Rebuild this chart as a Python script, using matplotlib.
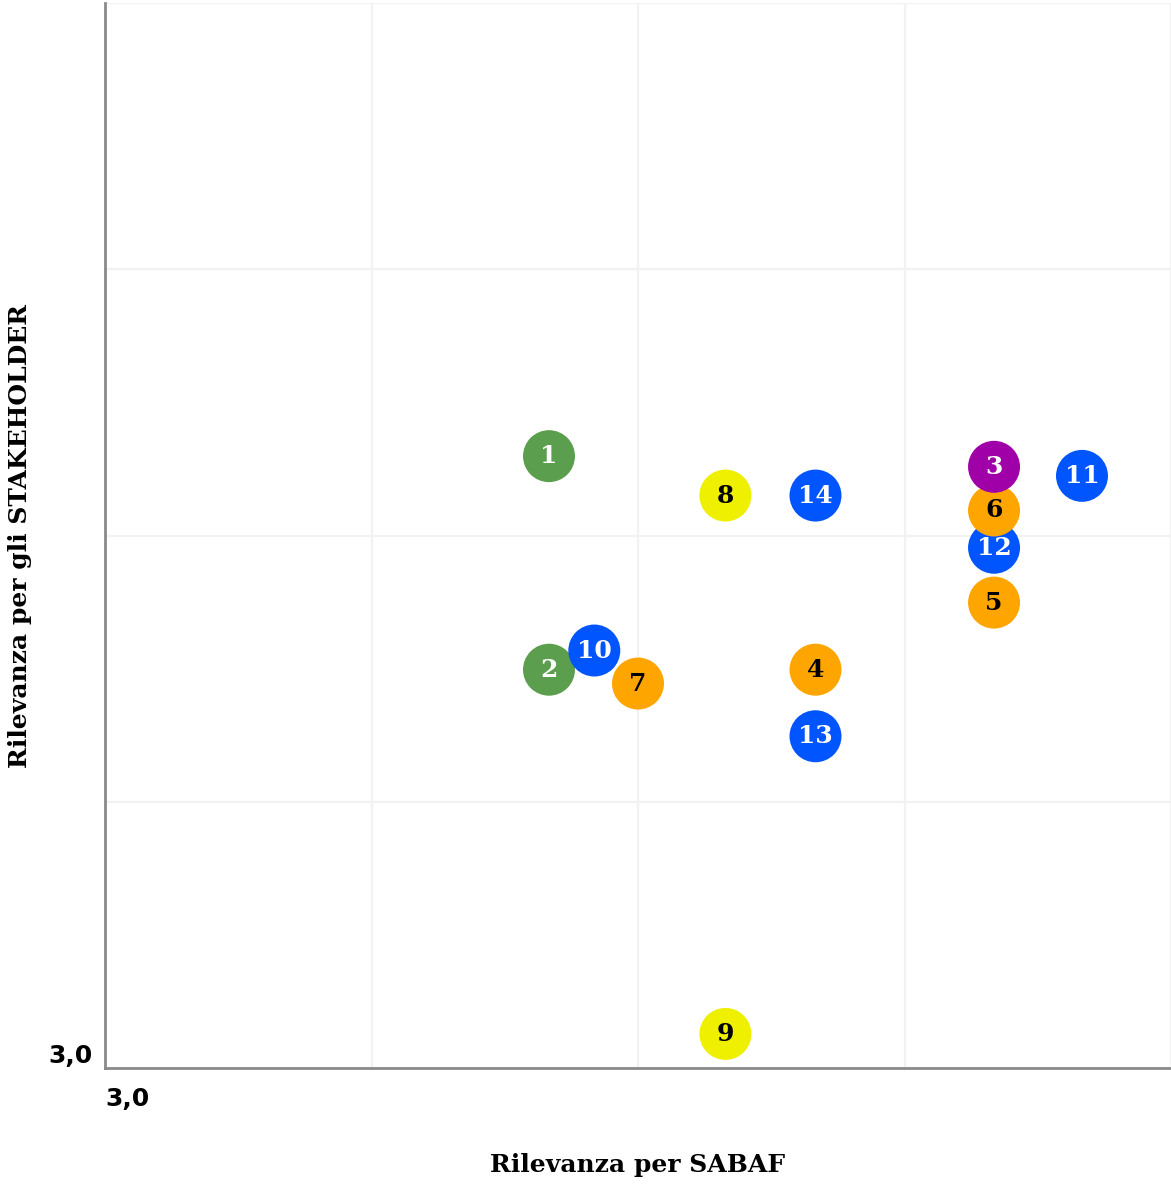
import numpy as np
import matplotlib
matplotlib.use("Agg")
import matplotlib.pyplot as plt

# topic numbers, position on the matrix and colour group
labels = ["1", "2", "10", "11", "12", "13", "14", "4", "5", "6", "7", "3", "8", "9"]
sabaf = [3.833, 3.833, 3.918, 4.833, 4.668, 4.333, 4.333, 4.333, 4.668, 4.668, 4.00, 4.668, 4.164, 4.164]
stakeholder = [4.149, 3.748, 3.784, 4.112, 3.977, 3.623, 4.075, 3.748, 3.874, 4.047, 3.722, 4.129, 4.075, 3.064]
groups = ["green", "green", "blue", "blue", "blue", "blue", "blue",
          "orange", "orange", "orange", "orange", "purple", "yellow", "yellow"]

colors = {"green": "#5a9e4e", "blue": "#0055ff", "orange": "#ffa500",
          "purple": "#a000a8", "yellow": "#eef000"}
text_colors = {"green": "white", "blue": "white", "orange": "black",
               "purple": "white", "yellow": "black"}

fig = plt.figure(figsize=(11.71, 11.85), dpi=100)
ax = fig.add_axes([105/1171, 117/1185, 1066/1171, 1065/1185])

ax.set_xlim(3.0, 5.0)
ax.set_ylim(3.0, 5.0)
ax.set_xticks([3.0, 3.5, 4.0, 4.5, 5.0])
ax.set_yticks([3.0, 3.5, 4.0, 4.5, 5.0])
ax.set_xticklabels(["3,0", "", "", "", ""])
ax.set_yticklabels(["3,0", "", "", "", ""])
ax.tick_params(length=0, labelsize=18)
ax.tick_params(axis="x", pad=14)
ax.tick_params(axis="y", pad=9)
for lab in ax.get_xticklabels():
    lab.set_fontweight("bold")
    lab.set_horizontalalignment("left")
for lab in ax.get_yticklabels():
    lab.set_fontweight("bold")
    lab.set_verticalalignment("bottom")

ax.grid(True, color="#f2f2f2", linewidth=1.6)
ax.set_axisbelow(True)
for s in ["top", "right"]:
    ax.spines[s].set_visible(False)
for s in ["left", "bottom"]:
    ax.spines[s].set_color("#8a8a8a")
    ax.spines[s].set_linewidth(2)

for i in range(len(labels)):
    g = groups[i]
    ax.scatter(sabaf[i], stakeholder[i], s=1400, color=colors[g],
               edgecolors="none", zorder=3 + i * 0.1, clip_on=False)
    ax.text(sabaf[i], stakeholder[i], labels[i], ha="center", va="center",
            fontsize=18, fontweight="bold", family="DejaVu Serif",
            color=text_colors[g], zorder=3.05 + i * 0.1)

ax.set_xlabel("Rilevanza per SABAF", fontsize=18, fontweight="bold",
              family="DejaVu Serif", labelpad=30)
ax.set_ylabel("Rilevanza per gli STAKEHOLDER", fontsize=18, fontweight="bold",
              family="DejaVu Serif", labelpad=12)

fig.savefig("out.png", dpi=100)
